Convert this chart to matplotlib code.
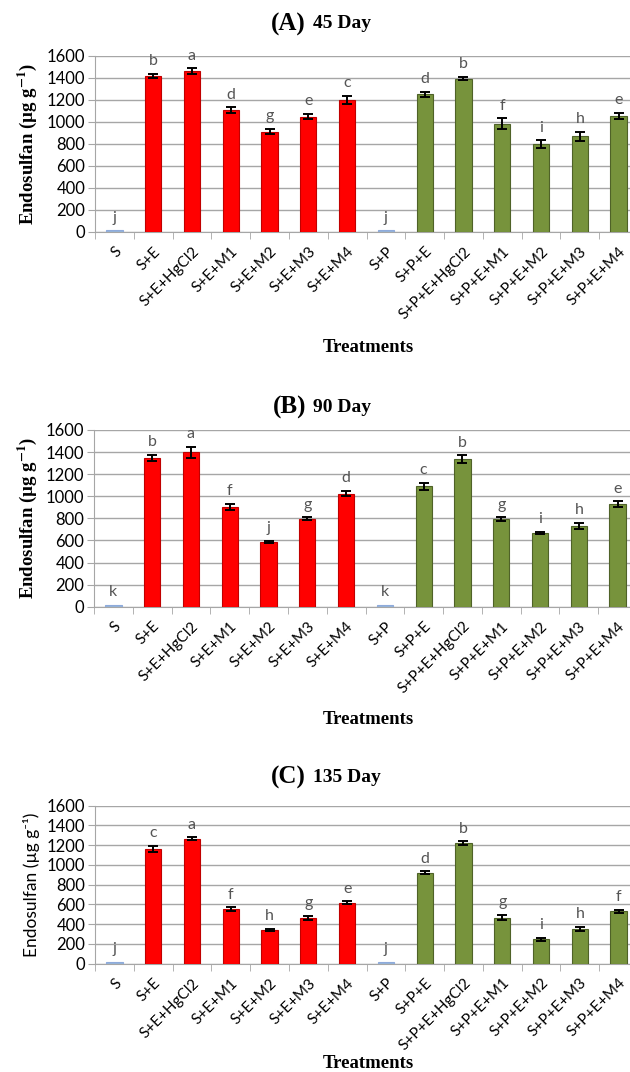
import numpy as np
import matplotlib.pyplot as plt
from matplotlib.ticker import FixedLocator

plt.rcParams['mathtext.fontset'] = 'stix'

treatments = ['S', 'S+E', 'S+E+HgCl2', 'S+E+M1', 'S+E+M2', 'S+E+M3', 'S+E+M4',
              'S+P', 'S+P+E', 'S+P+E+HgCl2', 'S+P+E+M1', 'S+P+E+M2', 'S+P+E+M3', 'S+P+E+M4']

day45 = [15, 1415, 1462, 1108, 910, 1046, 1198, 15, 1250, 1392, 982, 797, 868, 1053]
err45 = [0, 20, 25, 25, 25, 25, 40, 0, 25, 15, 50, 35, 40, 30]
letters45 = ['j', 'b', 'a', 'd', 'g', 'e', 'c', 'j', 'd', 'b', 'f', 'i', 'h', 'e']

day90 = [15, 1345, 1398, 905, 585, 798, 1025, 15, 1090, 1338, 795, 668, 730, 928]
err90 = [0, 30, 50, 25, 10, 10, 25, 0, 30, 35, 15, 10, 30, 25]
letters90 = ['k', 'b', 'a', 'f', 'j', 'g', 'd', 'k', 'c', 'b', 'g', 'i', 'h', 'e']

day135 = [15, 1163, 1265, 551, 342, 466, 618, 15, 920, 1218, 466, 245, 352, 532]
err135 = [0, 30, 15, 20, 8, 20, 15, 0, 15, 20, 30, 15, 20, 15]
letters135 = ['j', 'c', 'a', 'f', 'h', 'g', 'e', 'j', 'd', 'b', 'g', 'i', 'h', 'f']

panels = [('(A)', '45 Day', day45, err45, letters45),
          ('(B)', '90 Day', day90, err90, letters90),
          ('(C)', '135 Day', day135, err135, letters135)]

W, H = 630, 1072
fig = plt.figure(figsize=(W / 100, H / 100), dpi=100)

# pixel boxes: left, top, bottom of the plot area
boxes = [(95, 55.7, 232), (94, 430, 606.7), (95, 805.7, 963.5)]
title_y = [24, 407, 777]
xlabel_y = [347, 720, 1064]

sans = ['Lato', 'DejaVu Sans']
serif = ['Liberation Serif', 'DejaVu Serif']

colors = []
edges = []
for t in treatments:
    if t in ('S', 'S+P'):
        colors.append('#95b3d7'); edges.append('#8eaadb')
    elif t.startswith('S+E'):
        colors.append('#ff0000'); edges.append('#c00000')
    else:
        colors.append('#77933c'); edges.append('#4f6228')

x = np.arange(len(treatments))
for i, (tag, day, vals, errs, lets) in enumerate(panels):
    left, top, bot = boxes[i]
    ax = fig.add_axes([left / W, 1 - bot / H, 543 / W, (bot - top) / H])
    ax.bar(x, vals, width=0.42, color=colors, edgecolor=edges, linewidth=0.8, zorder=3)
    ex = [j for j in x if errs[j] > 0]
    ax.errorbar(ex, [vals[j] for j in ex], yerr=[errs[j] for j in ex], fmt='none',
                ecolor='black', elinewidth=1.4, capsize=3.5, capthick=1.4, zorder=4)
    for j in x:
        ax.annotate(lets[j], (j, vals[j] + errs[j]), xytext=(0, 4), textcoords='offset points',
                    ha='center', va='bottom', fontsize=11.5, color='#555555', family=sans)
    ax.set_xlim(-0.5, len(treatments) - 0.5)
    ax.set_ylim(0, 1600)
    ax.set_yticks(np.arange(0, 1601, 200))
    ax.yaxis.grid(True, color='#a6a6a6', linewidth=1, zorder=0)
    ax.set_axisbelow(True)
    for s in ['top', 'right']:
        ax.spines[s].set_visible(False)
    for s in ['left', 'bottom']:
        ax.spines[s].set_color('#a6a6a6')
    ax.tick_params(axis='y', length=5, color='#a6a6a6', labelsize=12, pad=2)
    for lab in ax.get_yticklabels():
        lab.set_family(sans)
    ax.set_xticks(x)
    ax.set_xticklabels(treatments, rotation=45, ha='right', rotation_mode='anchor',
                       fontsize=11, family=sans)
    ax.tick_params(axis='x', which='major', length=0, pad=9)
    ax.xaxis.set_minor_locator(FixedLocator(np.arange(-0.5, len(treatments), 1)))
    ax.tick_params(axis='x', which='minor', length=5, color='#a6a6a6')

    cy = 1 - ((top + bot) / 2) / H
    if i < 2:
        fig.text(27 / W, cy, r'Endosulfan (µg g$^{\mathbf{-1}}$)', rotation=90, ha='center',
                 va='center', fontsize=13.5, fontweight='bold', family=serif)
    else:
        fig.text(32 / W, cy, 'Endosulfan (µg g⁻¹)', rotation=90, ha='center',
                 va='center', fontsize=12.5, family=sans)

    fig.text(306 / W, 1 - title_y[i] / H, tag, ha='right', va='center',
             fontsize=18, fontweight='bold', family=serif)
    fig.text(313 / W, 1 - title_y[i] / H, day, ha='left', va='center',
             fontsize=14, fontweight='bold', family=serif)
    fig.text(368 / W, 1 - xlabel_y[i] / H, 'Treatments', ha='center', va='center',
             fontsize=13.5, fontweight='bold', family=serif)

fig.savefig('out.png', dpi=100)
